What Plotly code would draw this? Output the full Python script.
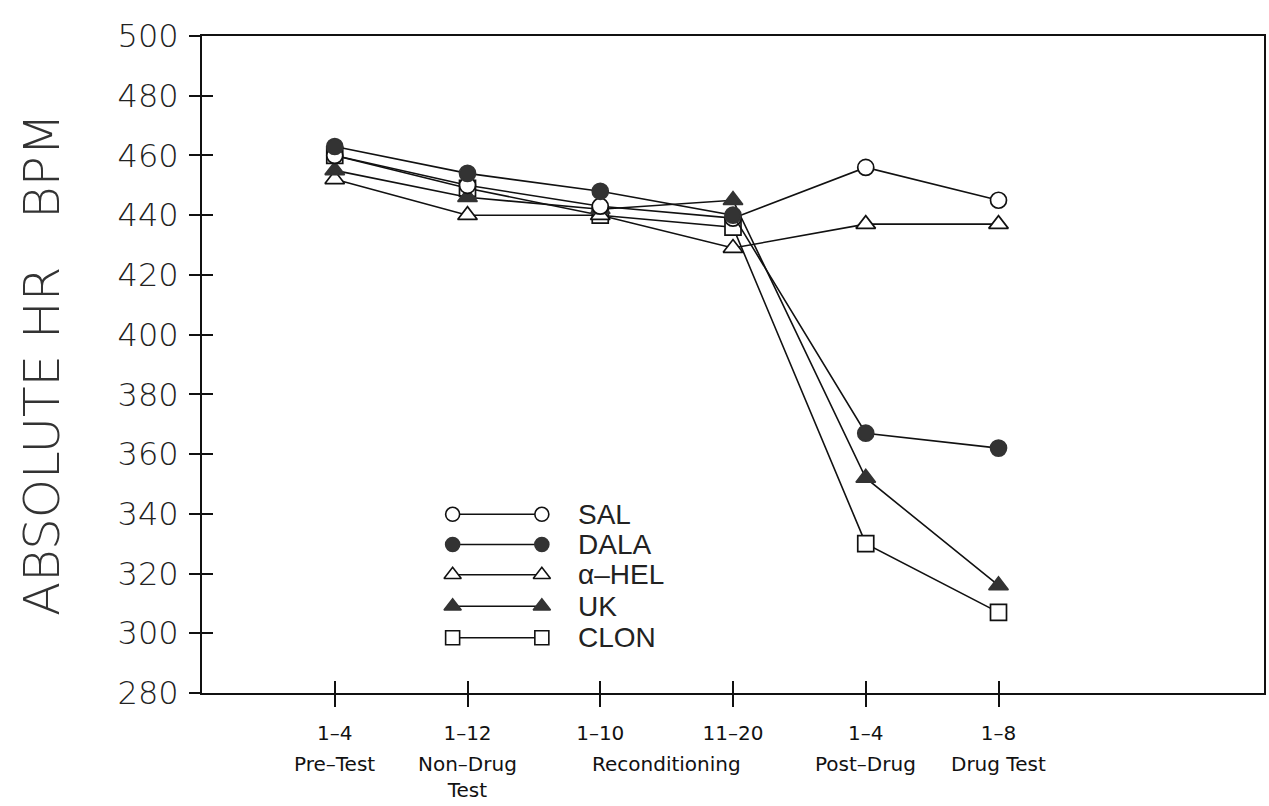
import plotly.graph_objects as go

# ---- data ----
tick_labels = ["1\u20134", "1\u201312", "1\u201310", "11\u201320", "1\u20134", "1\u20138"]
positions = [1, 2, 3, 4, 5, 6]
phase_labels = ["Pre\u2013Test", "Non\u2013Drug<br>Test", "Reconditioning", "Post\u2013Drug", "Drug Test"]
phase_pos = [1, 2, 3.5, 5, 6]

series_names = ["SAL", "DALA", "\u03b1\u2013HEL", "UK", "CLON"]
sal = [460, 450, 443, 439, 456, 445]
dala = [463, 454, 448, 440, 367, 362]
hel = [452, 440, 440, 429, 437, 437]
uk = [455, 446, 442, 445, 352, 316]
clon = [460, 449, 440, 436, 330, 307]
series_values = [sal, dala, hel, uk, clon]

symbols = ["circle-open", "circle", "triangle-up-open", "triangle-up", "square-open"]
marker_sizes = [16, 16, 17, 17, 16]
y_ticks = list(range(280, 501, 20))

FILL = "#333333"
INK = "#111111"

fig = go.Figure()

# draw order: back to front
order = [4, 2, 3, 0, 1]
for i in order:
    sym = symbols[i]
    filled = not sym.endswith("open")
    fig.add_trace(go.Scatter(
        x=positions, y=series_values[i], mode="lines+markers",
        name=series_names[i],
        line=dict(color=INK, width=1.6),
        marker=dict(symbol=sym.replace("-open", ""), size=marker_sizes[i],
                    color=FILL if filled else "white",
                    line=dict(color=INK if not filled else FILL, width=1.7)),
        showlegend=False, cliponaxis=False,
    ))

# ---- hand-drawn style legend on an overlay axis (0..1 of the plot area) ----
leg_x_left, leg_x_right, leg_text_x = 0.236, 0.320, 0.352
leg_rows = [0.272, 0.226, 0.180, 0.132, 0.084]
for i, name in enumerate(series_names):
    sym = symbols[i]
    filled = not sym.endswith("open")
    fig.add_trace(go.Scatter(
        x=[leg_x_left, leg_x_right], y=[leg_rows[i], leg_rows[i]],
        xaxis="x2", yaxis="y2", mode="lines+markers",
        line=dict(color=INK, width=1.5),
        marker=dict(symbol=sym.replace("-open", ""), size=marker_sizes[i] - 2,
                    color=FILL if filled else "white",
                    line=dict(color=INK if not filled else FILL, width=1.6)),
        showlegend=False, hoverinfo="skip",
    ))
    fig.add_annotation(x=leg_text_x, y=leg_rows[i], xref="x2", yref="y2",
                       text=name, showarrow=False, xanchor="left", yanchor="middle",
                       font=dict(size=28, color="#222222", family="Liberation Sans"))

# dummy trace for the inside-tick overlay axes
fig.add_trace(go.Scatter(x=[None], y=[None], xaxis="x3", yaxis="y3", showlegend=False))

for p, lab in zip(phase_pos, phase_labels):
    fig.add_annotation(x=p, y=0, xref="x", yref="paper", text=lab, showarrow=False,
                       xanchor="center", yanchor="top", yshift=-57,
                       font=dict(size=20, color=INK, family="DejaVu Sans"))

fig.update_layout(
    width=1269, height=806,
    margin=dict(l=202, r=3, t=36, b=113),
    paper_bgcolor="white", plot_bgcolor="white",
    xaxis=dict(range=[0, 8], tickvals=positions, ticktext=tick_labels,
               showgrid=False, zeroline=False, showline=True, linecolor=INK, linewidth=2,
               mirror=True, ticks="outside", ticklen=12, tickwidth=1.5, tickcolor=INK,
               ticklabelstandoff=9,
               tickfont=dict(size=20, family="DejaVu Sans", color=INK)),
    yaxis=dict(range=[280, 500], tickvals=y_ticks, showgrid=False, zeroline=False,
               showline=True, linecolor=INK, linewidth=2, mirror=True,
               ticks="outside", ticklen=11, tickwidth=1.5, tickcolor=INK,
               ticklabelstandoff=4,
               tickfont=dict(size=32, family="DejaVu Sans", color="#222222", weight=300),
               title=dict(text="ABSOLUTE HR\u00a0\u00a0\u00a0BPM", standoff=42,
                          font=dict(size=50, color="#333333", family="DejaVu Sans",
                                    weight=200))),
    xaxis2=dict(domain=[0, 1], range=[0, 1], visible=False, anchor="y2", overlaying="x"),
    yaxis2=dict(domain=[0, 1], range=[0, 1], visible=False, anchor="x2", overlaying="y"),
    xaxis3=dict(range=[0, 8], tickvals=positions, overlaying="x", anchor="y3",
                showticklabels=False, showline=False, showgrid=False, zeroline=False,
                ticks="inside", ticklen=12, tickwidth=1.5, tickcolor=INK),
    yaxis3=dict(range=[280, 500], tickvals=y_ticks[:-1], overlaying="y", anchor="x3",
                showticklabels=False, showline=False, showgrid=False, zeroline=False,
                ticks="inside", ticklen=11, tickwidth=1.5, tickcolor=INK),
    showlegend=False,
)

fig.write_html("out.html")
